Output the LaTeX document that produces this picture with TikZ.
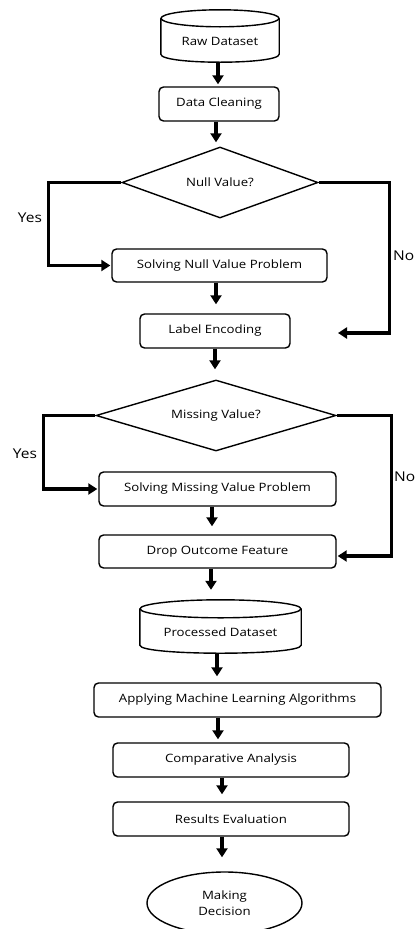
\documentclass[tikz,border=0pt]{standalone}
\usepackage{fontspec}
\setmainfont[FakeStretch=1.15]{Open Sans}
\usetikzlibrary{shapes.geometric,arrows.meta,calc}
\begin{document}
\begin{tikzpicture}[x=1pt,y=-1pt,
  every node/.style={font=\fontsize{11.5}{16}\selectfont, text=black},
  box/.style={draw=black, line width=1.4pt, rounded corners=4.5pt, inner sep=0pt},
  dia/.style={draw=black, line width=1.4pt, diamond, aspect=3, inner sep=0pt},
  ghost/.style={inner sep=0pt},
  conn/.style={line width=3.2pt, -{Triangle[length=9pt,width=11pt]}},
  cyl/.style={line width=1.4pt},
  lbl/.style={font=\fontsize{13.5}{16}\selectfont, inner sep=0pt}]
\useasboundingbox (0,0) rectangle (416,929);

% Raw dataset cylinder
\node[ghost, minimum width=118pt, minimum height=52pt] (raw) at (220,36) {};
\draw[cyl] ($(raw.north)+(0,8.5)$) ellipse [x radius=59pt, y radius=8.5pt];
\draw[cyl] ($(raw.north west)+(0,8.5)$) -- ($(raw.south west)+(0,-8)$)
  .. controls ($(raw.south west)+(0,2.67)$) and ($(raw.south east)+(0,2.67)$) .. ($(raw.south east)+(0,-8)$)
  -- ($(raw.north east)+(0,8.5)$);
\node (rawt) at ($(raw.center)+(0,5)$) {Raw Dataset};

\node[box, minimum width=120pt, minimum height=34pt] (dc) at (219,104) {Data Cleaning};
\node[dia, minimum width=196pt, minimum height=71pt] (null) at (220,182.5) {Null Value?};
\node[box, minimum width=215pt, minimum height=33pt] (snp) at (219.5,265.5) {Solving Null Value Problem};
\node[box, minimum width=150pt, minimum height=34pt] (le) at (215,331) {Label Encoding};
\node[dia, minimum width=240pt, minimum height=71pt] (miss) at (216,415.5) {Missing Value?};
\node[box, minimum width=237pt, minimum height=34pt] (smp) at (217.5,489) {Solving Missing Value Problem};
\node[box, minimum width=237pt, minimum height=33pt] (dof) at (217.5,551.5) {Drop Outcome Feature};

% Processed dataset cylinder
\node[ghost, minimum width=161pt, minimum height=53pt] (pd) at (220.5,626.5) {};
\draw[cyl] ($(pd.north)+(0,9)$) ellipse [x radius=80.5pt, y radius=9pt];
\draw[cyl] ($(pd.north west)+(0,9)$) -- ($(pd.south west)+(0,-8)$)
  .. controls ($(pd.south west)+(0,2.67)$) and ($(pd.south east)+(0,2.67)$) .. ($(pd.south east)+(0,-8)$)
  -- ($(pd.north east)+(0,9)$);
\node (pdt) at ($(pd.center)+(0,5.5)$) {Processed Dataset};

\node[box, minimum width=287pt, minimum height=34pt] (ml) at (237.5,700) {Applying Machine Learning Algorithms};
\node[box, minimum width=236pt, minimum height=34pt] (ca) at (231,760) {Comparative Analysis};
\node[box, minimum width=236pt, minimum height=34pt] (re) at (231,819) {Results Evaluation};
\node[draw=black, ellipse, line width=1.4pt, minimum width=155pt, minimum height=62pt, inner sep=0pt, align=center] (md) at (224.5,903) {Making\\Decision};

% vertical arrows
\draw[conn, shorten >=2pt] ([xshift=-2pt]raw.south) -- ([xshift=-2pt]raw.south |- dc.north);
\draw[conn, shorten >=4pt] ([xshift=-3pt]dc.south) -- ([xshift=-3pt]dc.south |- null.north);
\draw[conn, shorten >=9pt] ([xshift=-3.5pt]snp.south) -- ([xshift=-3.5pt]snp.south |- le.north);
\draw[conn, shorten >=10pt] (le.south) -- (le.south |- miss.north);
\draw[conn, shorten >=8pt] ([xshift=-5.5pt]smp.south) -- ([xshift=-5.5pt]smp.south |- dof.north);
\draw[conn, shorten >=10pt] ([xshift=-6.5pt]dof.south) -- ([xshift=-6.5pt]dof.south |- pd.north);
\draw[conn, shorten >=6pt] ([xshift=-3.5pt]pd.south) -- ([xshift=-3.5pt]pd.south |- ml.north);
\draw[conn, shorten >=3pt] ([xshift=-19.5pt]ml.south) -- ([xshift=-19.5pt]ml.south |- ca.north);
\draw[conn, shorten >=7pt] ([xshift=-9pt]ca.south) -- ([xshift=-9pt]ca.south |- re.north);
\draw[conn, shorten >=14pt] ([xshift=-9pt]re.south) -- ([xshift=-9pt]re.south |- md.north);

% decision branches
\coordinate (no1) at (338,333);
\draw[conn, shorten >=1pt] (null.west) -- ++(-73,0) |- (snp.west);
\draw[conn] (null.east) -- ++(71,0) |- (no1);
\draw[conn, shorten >=1pt] (miss.west) -- ++(-52,0) |- (smp.west);
\draw[conn, shorten >=1pt] (miss.east) -- ++(55,0) |- ($(dof.east)+(0,4.5)$);

\node[lbl] (y1) at (30,218) {Yes};
\node[lbl, anchor=west] (n1) at (393,256) {No};
\node[lbl] (y2) at (25,454) {Yes};
\node[lbl, anchor=west] (n2) at (394,477) {No};
\end{tikzpicture}
\end{document}
